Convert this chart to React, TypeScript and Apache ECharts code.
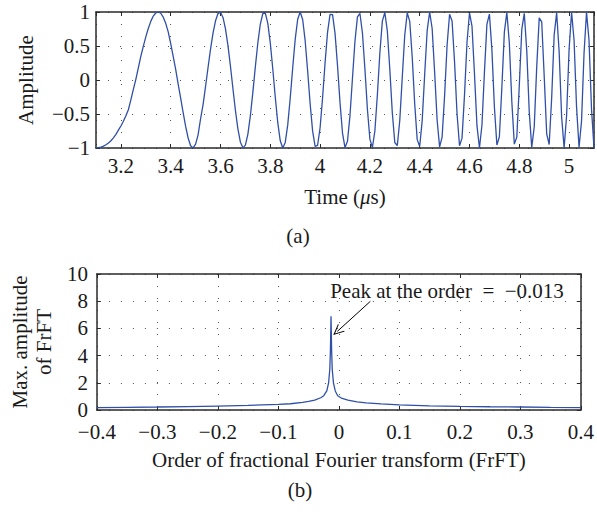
import React, { useEffect, useRef } from "react";
import * as echarts from "echarts";

// ---- Data (a): sampled chirp, one value every 0.01 µs starting at 3.10 µs
const sampleStart = 3.1;
const sampleStep = 0.01;
const amplitude = [
  -0.999, -0.994, -0.986, -0.973, -0.953, -0.927, -0.894, -0.851, -0.799, -0.737,
  -0.676, -0.606, -0.526, -0.437, -0.293, -0.139, 0.010, 0.178, 0.347, 0.495,
  0.634, 0.758, 0.862, 0.940, 0.985, 1.000, 0.982, 0.924, 0.833, 0.707,
  0.535, 0.348, 0.156, -0.062, -0.268, -0.480, -0.682, -0.853, -0.967, -0.999,
  -0.942, -0.806, -0.570, -0.362, -0.095, 0.184, 0.454, 0.690, 0.871, 0.977,
  0.996, 0.920, 0.752, 0.505, 0.202, -0.128, -0.448, -0.722, -0.914, -0.998,
  -0.958, -0.795, -0.525, -0.179, 0.196, 0.547, 0.823, 0.978, 0.983, 0.832,
  0.544, 0.161, -0.253, -0.628, -0.894, -1.000, -0.918, -0.660, -0.268, 0.181,
  0.597, 0.893, 1.000, 0.889, 0.578, 0.132, -0.349, -0.752, -0.976, -0.960,
  -0.702, -0.260, 0.254, 0.704, 0.966, 0.962, 0.686, 0.209, -0.333, -0.780,
  -0.993, -0.900, -0.523, 0.025, 0.570, 0.929, 0.978, 0.691, 0.161, -0.430,
  -0.870, -0.995, -0.750, -0.220, 0.398, 0.866, 0.993, 0.722, 0.154, -0.481,
  -0.919, -0.966, -0.596, 0.040, 0.661, 0.987, 0.862, 0.335, -0.354, -0.877,
  -0.978, -0.598, 0.082, 0.725, 1.000, 0.757, 0.115, -0.592, -0.983, -0.839,
  -0.230, 0.512, 0.966, 0.868, 0.264, -0.499, -0.968, -0.855, -0.219, 0.555,
  0.986, 0.794, 0.093, -0.672, -1.000, -0.666, 0.116, 0.823, 0.969, 0.443,
  -0.396, -0.957, -0.835, -0.107, 0.703, 0.995, 0.544, -0.320, -0.943, -0.840,
  -0.081, 0.745, 0.981, 0.428, -0.475, -0.991, -0.687, 0.193, 0.914, 0.856,
  0.060, -0.791, -0.949, -0.265, 0.659, 0.990, 0.418, -0.541, -1.000, -0.521,
  0.453, 0.997, 0.581, -0.403, -0.993, -0.601, 0.393, 0.994, 0.585, -0.426,
  -0.998,
];

// ---- Data (b): max amplitude of FrFT vs order
const orders = [
  -0.4, -0.35, -0.3, -0.25, -0.2, -0.15, -0.1, -0.08, -0.06, -0.05, -0.04, -0.03,
  -0.025, -0.02, -0.017, -0.015, -0.014, -0.013, -0.012, -0.011, -0.009, -0.006,
  -0.002, 0.004, 0.015, 0.03, 0.045, 0.07, 0.1, 0.15, 0.2, 0.25, 0.3, 0.35, 0.4,
];
const frftMax = [
  0.18, 0.2, 0.22, 0.25, 0.29, 0.34, 0.41, 0.46, 0.56, 0.63, 0.73, 0.9,
  1.05, 1.4, 2.0, 3.0, 4.4, 6.9, 4.4, 3.0, 2.0, 1.4,
  1.05, 0.88, 0.72, 0.6, 0.52, 0.45, 0.38, 0.31, 0.27, 0.24, 0.22, 0.19, 0.17,
];
const peakOrder = "−0.013";
const arrowFrom = [0.052, 7.99];
const arrowTo = [-0.0026, 5.78];

const FONT = '"Liberation Serif", "Times New Roman", serif';
const FS = 21;
const TEXT = "#1a1a1a";
const AXIS = "#2a2a2a";
const BLUE = "#3050a8";

const fmt = (v: number) => {
  const r = Math.round(v * 1000) / 1000;
  return String(r).replace("-", "−");
};

const gridLine = {
  show: true,
  lineStyle: { color: "#555", width: 1, type: [1, 11] as any },
};
const axisLine = { show: true, onZero: false, lineStyle: { color: AXIS, width: 1.5 } };
const tick = { show: true, inside: true, length: 4, lineStyle: { color: AXIS, width: 1 } };
const labelStyle = { fontFamily: FONT, fontSize: FS, color: TEXT };

export default function App() {
  const ref = useRef<HTMLDivElement>(null);
  useEffect(() => {
    if (!ref.current) return;
    const chart = echarts.init(ref.current, undefined, { renderer: "svg" });
    const option: any = {
      animation: false,
      backgroundColor: "#fff",
      textStyle: { fontFamily: FONT },
      grid: [
        { left: 96, top: 12, width: 498, height: 136, containLabel: false },
        { left: 91, top: 274, width: 497, height: 136, containLabel: false },
      ],
      xAxis: [
        {
          gridIndex: 0, type: "value", min: 3.1, max: 5.1, splitNumber: 10, position: "bottom",
          axisLine, axisTick: tick, splitLine: gridLine,
          axisLabel: { ...labelStyle, lineHeight: 20, margin: 8, showMinLabel: false, showMaxLabel: false, formatter: fmt },
          name: "{n|Time (}{i|μ}{n|s)}", nameLocation: "middle", nameGap: 38,
          nameTextStyle: {
            rich: {
              n: { fontFamily: FONT, fontSize: FS, color: TEXT },
              i: { fontFamily: FONT, fontSize: FS, color: TEXT, fontStyle: "italic" },
            },
          },
        },
        {
          gridIndex: 0, type: "value", min: 3.1, max: 5.1, splitNumber: 10, position: "top",
          axisLine, axisTick: tick, splitLine: { show: false }, axisLabel: { show: false },
        },
        {
          gridIndex: 1, type: "value", min: -0.4, max: 0.4, interval: 0.1, position: "bottom",
          axisLine, axisTick: tick, splitLine: gridLine,
          axisLabel: { ...labelStyle, lineHeight: 20, margin: 12, formatter: fmt },
          name: "Order of fractional Fourier transform (FrFT)", nameLocation: "middle", nameGap: 39,
          nameTextStyle: { ...labelStyle },
        },
        {
          gridIndex: 1, type: "value", min: -0.4, max: 0.4, interval: 0.1, position: "top",
          axisLine, axisTick: tick, splitLine: { show: false }, axisLabel: { show: false },
        },
      ],
      yAxis: [
        {
          gridIndex: 0, type: "value", min: -1, max: 1, interval: 0.5, position: "left",
          axisLine, axisTick: tick, splitLine: gridLine,
          axisLabel: { ...labelStyle, lineHeight: 20, margin: 6, formatter: fmt },
          name: "Amplitude", nameLocation: "middle", nameGap: 60, nameTextStyle: { ...labelStyle },
        },
        {
          gridIndex: 0, type: "value", min: -1, max: 1, interval: 0.5, position: "right",
          axisLine, axisTick: tick, splitLine: { show: false }, axisLabel: { show: false },
        },
        {
          gridIndex: 1, type: "value", min: 0, max: 10, interval: 2, position: "left",
          axisLine, axisTick: tick, splitLine: gridLine,
          axisLabel: { ...labelStyle, lineHeight: 18, margin: 9, formatter: fmt },
          name: "Max. amplitude\nof FrFT", nameLocation: "middle", nameGap: 37,
          nameTextStyle: { ...labelStyle, lineHeight: 24, align: "center" },
        },
        {
          gridIndex: 1, type: "value", min: 0, max: 10, interval: 2, position: "right",
          axisLine, axisTick: tick, splitLine: { show: false }, axisLabel: { show: false },
        },
      ],
      series: [
        {
          type: "line", xAxisIndex: 0, yAxisIndex: 0, showSymbol: false, symbol: "none",
          data: amplitude.map((v, i) => [sampleStart + i * sampleStep, v]),
          lineStyle: { color: BLUE, width: 1.3 }, silent: true,
        },
        {
          type: "line", xAxisIndex: 2, yAxisIndex: 2, showSymbol: false, symbol: "none",
          data: orders.map((x, i) => [x, frftMax[i]]),
          lineStyle: { color: BLUE, width: 1.3 }, silent: true,
          markLine: {
            silent: true, animation: false,
            symbol: ["none", "path://M5,0 L10,12 L9,12 L5,2.6 L1,12 L0,12 Z"],
            symbolSize: [10, 11],
            lineStyle: { color: "#000", width: 1, type: "solid" },
            label: { show: false },
            data: [[{ coord: arrowFrom }, { coord: arrowTo }]],
          },
        },
      ],
      graphic: [
        {
          type: "text", x: 447, y: 291,
          style: { text: "Peak at the order  =  " + peakOrder, font: `${FS}px ${FONT}`, fill: TEXT, textAlign: "center", textVerticalAlign: "middle" },
        },
        {
          type: "text", x: 298, y: 236,
          style: { text: "(a)", font: `${FS}px ${FONT}`, fill: TEXT, textAlign: "center", textVerticalAlign: "middle" },
        },
        {
          type: "text", x: 300, y: 490,
          style: { text: "(b)", font: `${FS}px ${FONT}`, fill: TEXT, textAlign: "center", textVerticalAlign: "middle" },
        },
      ],
    };
    chart.setOption(option);
    return () => chart.dispose();
  }, []);
  return (
    <div
      ref={ref}
      style={{ position: "absolute", left: 0, top: 0, width: 597, height: 512, background: "#fff" }}
    />
  );
}
